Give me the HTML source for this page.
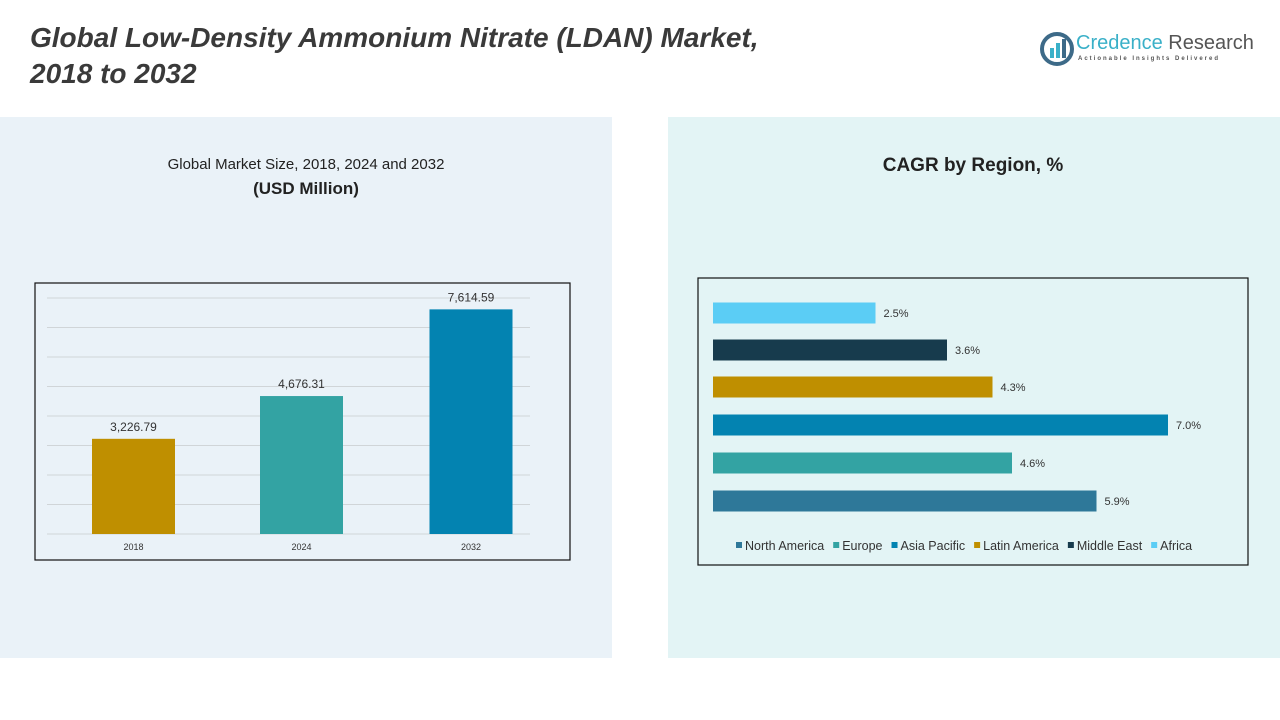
<!DOCTYPE html>
<html><head><meta charset="utf-8"><style>
body{margin:0;width:1280px;height:720px;background:#fff;font-family:"Liberation Sans",sans-serif;position:relative;overflow:hidden}
.abs{position:absolute}
</style></head><body>
<div class="abs" style="left:30px;top:20px;font-size:28px;font-weight:bold;font-style:italic;color:#3a3a3a;line-height:36px">Global Low-Density Ammonium Nitrate (LDAN) Market,<br>2018 to 2032</div>
<div class="abs" style="left:1040px;top:30px;width:215px;height:40px">
<svg width="34" height="34" style="position:absolute;left:0;top:2px"><circle cx="17" cy="17" r="15" fill="none" stroke="#3d6a88" stroke-width="4"/><rect x="10" y="16" width="4" height="10" fill="#3ab0c8"/><rect x="16" y="11" width="4" height="15" fill="#3ab0c8"/><rect x="22" y="7" width="4" height="19" fill="#3d6a88"/></svg>
<div class="abs" style="left:36px;top:2px;font-size:20px;color:#3ab0c8;white-space:nowrap">Credence <span style="color:#555">Research</span></div>
<div class="abs" style="left:38px;top:26px;font-size:6px;letter-spacing:2px;color:#555;white-space:nowrap;font-weight:bold">Actionable Insights Delivered</div>
</div>
<div class="abs" style="left:0;top:117px;width:612px;height:541px;background:#eaf2f8"></div>
<div class="abs" style="left:668px;top:117px;width:612px;height:541px;background:#e3f4f5"></div>
<div class="abs" style="left:0;top:153px;width:612px;text-align:center;font-size:15px;color:#222;line-height:24px">Global Market Size, 2018, 2024 and 2032<br><b style="font-size:17px">(USD Million)</b></div>
<div class="abs" style="left:743px;top:155px;width:460px;text-align:center;font-size:19px;font-weight:bold;color:#222">CAGR by Region, %</div>
<svg class="abs" style="left:0;top:0" width="1280" height="720" id="chart"></svg>
<script>
const years=["2018","2024","2032"];
const sizes=[3226.79,4676.31,7614.59];
const sizeLabels=["3,226.79","4,676.31","7,614.59"];
const barColors=["#bf8f00","#33a3a3","#0383b1"];
const regions=["Africa","Middle East","Latin America","Asia Pacific","Europe","North America"];
const cagr=[2.5,3.6,4.3,7.0,4.6,5.9];
const regColors=["#5bcdf5","#173b4d","#bf8f00","#0383b1","#33a3a3","#2e7899"];
const legendOrder=["North America","Europe","Asia Pacific","Latin America","Middle East","Africa"];
const NS="http://www.w3.org/2000/svg";
const svg=document.getElementById('chart');
function mk(t,a,txt){const e=document.createElementNS(NS,t);for(const k in a)e.setAttribute(k,a[k]);if(txt!==undefined)e.textContent=txt;svg.appendChild(e);return e;}
let f=mk('rect',{x:35,y:283,width:535,height:277,fill:'none',stroke:'#111','stroke-width':1.2});

const y0=534,pxPer=29.5/1000;
const yS=v=>y0-v*pxPer;
for(let g=0;g<=8000;g+=1000){let l=mk('line',{x1:47,x2:530,y1:yS(g),y2:yS(g),stroke:'#d0d5d8','stroke-width':1});}
const xc=[133.5,301.5,471];
years.forEach((yr,i)=>{
 let r=mk('rect',{x:xc[i]-41.5,y:yS(sizes[i]),width:83,height:sizes[i]*pxPer,fill:barColors[i]});
 
 let t=mk('text',{x:xc[i],y:yS(sizes[i])-8,'text-anchor':'middle','font-size':12,fill:'#333'},sizeLabels[i]);
 
 let x=mk('text',{x:xc[i],y:550,'text-anchor':'middle','font-size':9,fill:'#333'},yr);
 
});
let f2=mk('rect',{x:698,y:278,width:550,height:287,fill:'none',stroke:'#111','stroke-width':1.2});

const xs=v=>713+v*65;
const yc=[313,350,387,425,463,501];
regions.forEach((rg,i)=>{
 let r=mk('rect',{x:713,y:yc[i]-10.5,width:xs(cagr[i])-713,height:21,fill:regColors[i]});
 
 let t=mk('text',{x:xs(cagr[i])+8,y:yc[i]+4,'font-size':11,fill:'#333'},cagr[i].toFixed(1)+'%');
 
});
let lx=736;
legendOrder.forEach(n=>{
 const c=regColors[regions.indexOf(n)];
 let s=mk('rect',{x:lx,y:542,width:6,height:6,fill:c});
 let t=mk('text',{x:lx+9,y:550,'font-size':12.5,fill:'#333'},n);
 lx+=9+t.getComputedTextLength()+9;
});
</script>
</body></html>
